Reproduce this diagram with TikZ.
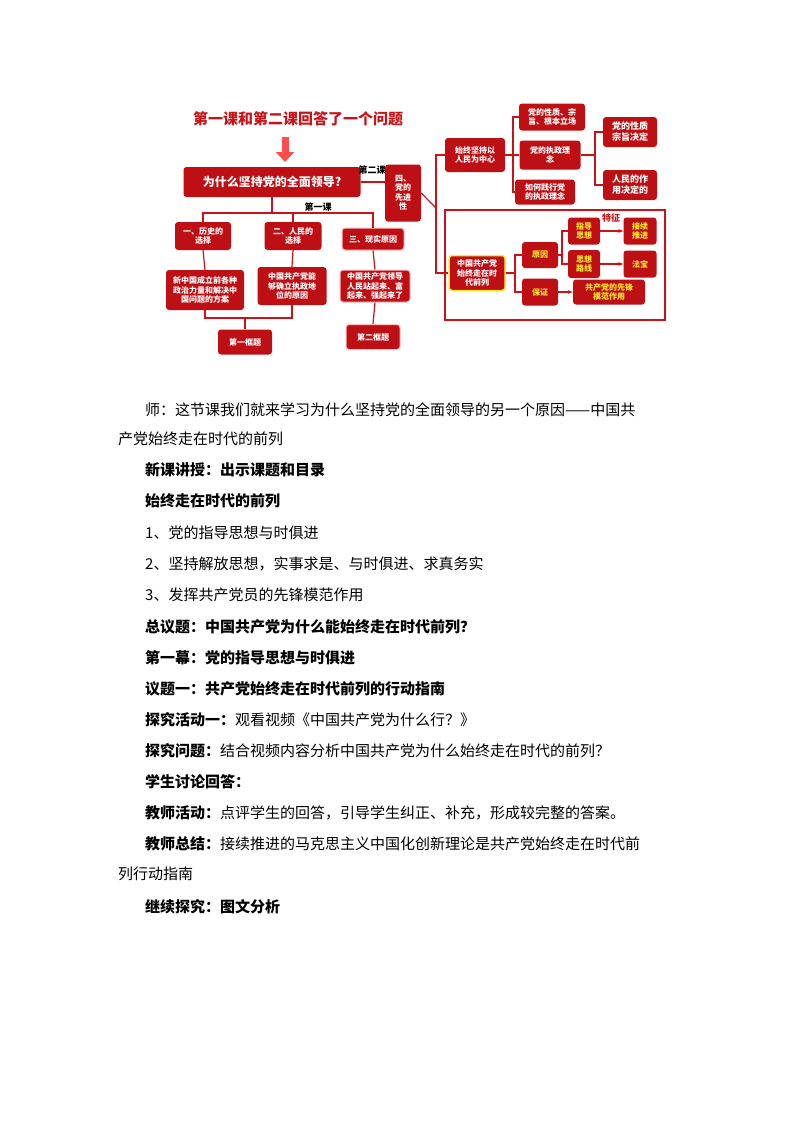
\documentclass[tikz,border=0pt]{standalone}
\usepackage{fontspec}
\setmainfont{Noto Sans CJK SC}
\usetikzlibrary{arrows.meta}
\definecolor{boxred}{RGB}{190,15,20}
\definecolor{darkred}{RGB}{200,20,25}
\definecolor{hiyellow}{RGB}{255,235,40}
\begin{document}
\begin{tikzpicture}[x=1pt, y=-1pt,
    rbox/.style={fill=boxred, rounded corners=3pt, text=white, align=center, inner sep=1pt, font=\bfseries\fontsize{8}{9.5}\selectfont},
    ybox/.style={rbox, text=hiyellow},
    link/.style={darkred, line width=1.2pt},
    arr/.style={link, -{Stealth[length=5pt]}},
    para/.style={anchor=west, inner sep=0pt, font=\fontsize{15}{18}\selectfont},
    lbl/.style={inner sep=0pt, font=\bfseries\fontsize{9}{10}\selectfont}]
  \useasboundingbox (0,0) rectangle (793,1122);
  % title and arrow
  \node[inner sep=0pt, text=darkred, font=\bfseries\fontsize{15}{16}\selectfont] (title) at (298,119) {第一课和第二课回答了一个问题};
  \draw[red!70, line width=7pt, -{Triangle[length=10pt, width=18pt]}] (285,137) -- (285,162);
  % left part
  \node[rbox, minimum width=177pt, minimum height=30pt, font=\bfseries\fontsize{12}{14}\selectfont] (why) at (272,182) {为什么坚持党的全面领导?};
  \node[rbox, minimum width=36pt, minimum height=57pt] (adv) at (403,193) {四、\\党的\\先进\\性};
  \node[lbl] (lesson2) at (372,170) {第二课};
  \node[lbl] (lesson1) at (318,207) {第一课};
  \node[rbox, minimum width=56pt, minimum height=28pt] (hist) at (203,236) {一、历史的\\选择};
  \node[rbox, minimum width=57pt, minimum height=28pt] (ppl) at (293,236) {二、人民的\\选择};
  \node[rbox, minimum width=62pt, minimum height=22pt, draw=red!25, line width=1pt] (real) at (373,239) {三、现实原因};
  \node[rbox, minimum width=78pt, minimum height=40pt] (plan) at (205,290) {新中国成立前各种\\政治力量和解决中\\国问题的方案};
  \node[rbox, minimum width=69pt, minimum height=38pt] (rule) at (292,286) {中国共产党能\\够确立执政地\\位的原因};
  \node[rbox, minimum width=70pt, minimum height=32pt, draw=red!25, line width=1pt] (rise) at (375,286) {中国共产党领导\\人民站起来、富\\起来、强起来了};
  \node[rbox, minimum width=54pt, minimum height=25pt] (frame1) at (245,342) {第一框题};
  \node[rbox, minimum width=54pt, minimum height=25pt, draw=red!25, line width=1pt] (frame2) at (373,337) {第二框题};
  \draw[link] (why.east) -- (adv.west |- why.east);
  \draw[link] (why.south) -- (272,213) coordinate (j1);
  \draw[link] (hist.north) |- (j1) -| (real.north);
  \draw[link] (j1) -| (ppl.north);
  \draw[link] (hist.south) -- (plan.north);
  \draw[link] (ppl.south) -- (rule.north);
  \draw[link] (real.south) -- (rise.north);
  \draw[link] (rise.south) -- (frame2.north);
  \draw[link] (plan.south) |- (245,318) coordinate (j2) -| (rule.south);
  \draw[link] (j2) -- (frame1.north);
  % right part
  \draw[link] (adv.east) -- (436,208) coordinate (j3);
  \node[rbox, minimum width=60pt, minimum height=34pt] (center) at (475,155) {始终坚持以\\人民为中心};
  \node[rbox, minimum width=56pt, minimum height=35pt, draw=hiyellow, line width=1.5pt] (front) at (477,273) {中国共产党\\始终走在时\\代前列};
  \draw[link] (center.west) -| (j3) |- (front.west);
  \node[rbox, minimum width=66pt, minimum height=27pt] (nature) at (552,117) {党的性质、宗\\旨、根本立场};
  \node[rbox, minimum width=61pt, minimum height=29pt] (idea) at (550,155) {党的执政理\\念};
  \node[rbox, minimum width=60pt, minimum height=25pt] (practice) at (545,192) {如何践行党\\的执政理念};
  \draw[link] (center.east) -- (513,155) coordinate (j4);
  \draw[link] (nature.west) -| (j4) |- (practice.west);
  \draw[link] (j4) -- (idea.west);
  \node[rbox, minimum width=54pt, minimum height=30pt, font=\bfseries\fontsize{9}{11}\selectfont] (decide1) at (630,132) {党的性质\\宗旨决定};
  \node[rbox, minimum width=54pt, minimum height=30pt, font=\bfseries\fontsize{9}{11}\selectfont] (decide2) at (630,185) {人民的作\\用决定的};
  \draw[link] (idea.east) -- (595,155) coordinate (j5);
  \draw[link] (decide1.west) -| (j5) |- (decide2.west);
  \draw[darkred, line width=1.5pt] (445,210) rectangle (665,320);
  \node[ybox, minimum width=36pt, minimum height=26pt] (cause) at (540,255) {原因};
  \node[ybox, minimum width=36pt, minimum height=27pt] (ensure) at (540,292) {保证};
  \draw[link] (front.east) -- (515,273) coordinate (j6);
  \draw[link] (cause.west) -| (j6) |- (ensure.west);
  \node[ybox, minimum width=32pt, minimum height=27pt] (guide) at (584,231) {指导\\思想};
  \node[ybox, minimum width=32pt, minimum height=28pt] (line) at (584,264) {思想\\路线};
  \draw[link] (cause.east) -- (562,255) coordinate (j7);
  \draw[link] (guide.west) -| (j7) |- (line.west);
  \node[ybox, minimum width=33pt, minimum height=27pt] (carry) at (640,231) {接续\\推进};
  \node[ybox, minimum width=33pt, minimum height=27pt] (magic) at (640,264) {法宝};
  \node[ybox, minimum width=72pt, minimum height=25pt] (model) at (609,292) {共产党的先锋\\模范作用};
  \node[lbl, text=darkred] (feature) at (611,218) {特征};
  \draw[arr] (guide.east) -- (carry.west);
  \draw[arr] (line.east) -- (magic.west);
  \draw[arr] (ensure.east) -- (model.west);
  % text body
  \node[para] (p1) at (145,410) {师：这节课我们就来学习为什么坚持党的全面领导的另一个原因——中国共};
  \node[para] (p2) at (118,439) {产党始终走在时代的前列};
  \node[para] (p3) at (145,470) {\textbf{新课讲授：出示课题和目录}};
  \node[para] (p4) at (145,501) {\textbf{始终走在时代的前列}};
  \node[para] (p5) at (145,533) {1、党的指导思想与时俱进};
  \node[para] (p6) at (145,564) {2、坚持解放思想，实事求是、与时俱进、求真务实};
  \node[para] (p7) at (145,595) {3、发挥共产党员的先锋模范作用};
  \node[para] (p8) at (145,627) {\textbf{总议题：中国共产党为什么能始终走在时代前列？}};
  \node[para] (p9) at (145,658) {\textbf{第一幕：党的指导思想与时俱进}};
  \node[para] (p10) at (145,689) {\textbf{议题一：共产党始终走在时代前列的行动指南}};
  \node[para] (p11) at (145,720) {\textbf{探究活动一：}观看视频《中国共产党为什么行？》};
  \node[para] (p12) at (145,751) {\textbf{探究问题：}结合视频内容分析中国共产党为什么始终走在时代的前列？};
  \node[para] (p13) at (145,782) {\textbf{学生讨论回答：}};
  \node[para] (p14) at (145,813) {\textbf{教师活动：}点评学生的回答，引导学生纠正、补充，形成较完整的答案。};
  \node[para] (p15) at (145,844) {\textbf{教师总结：}接续推进的马克思主义中国化创新理论是共产党始终走在时代前};
  \node[para] (p16) at (118,874) {列行动指南};
  \node[para] (p17) at (145,907) {\textbf{继续探究：图文分析}};
\end{tikzpicture}
\end{document}
